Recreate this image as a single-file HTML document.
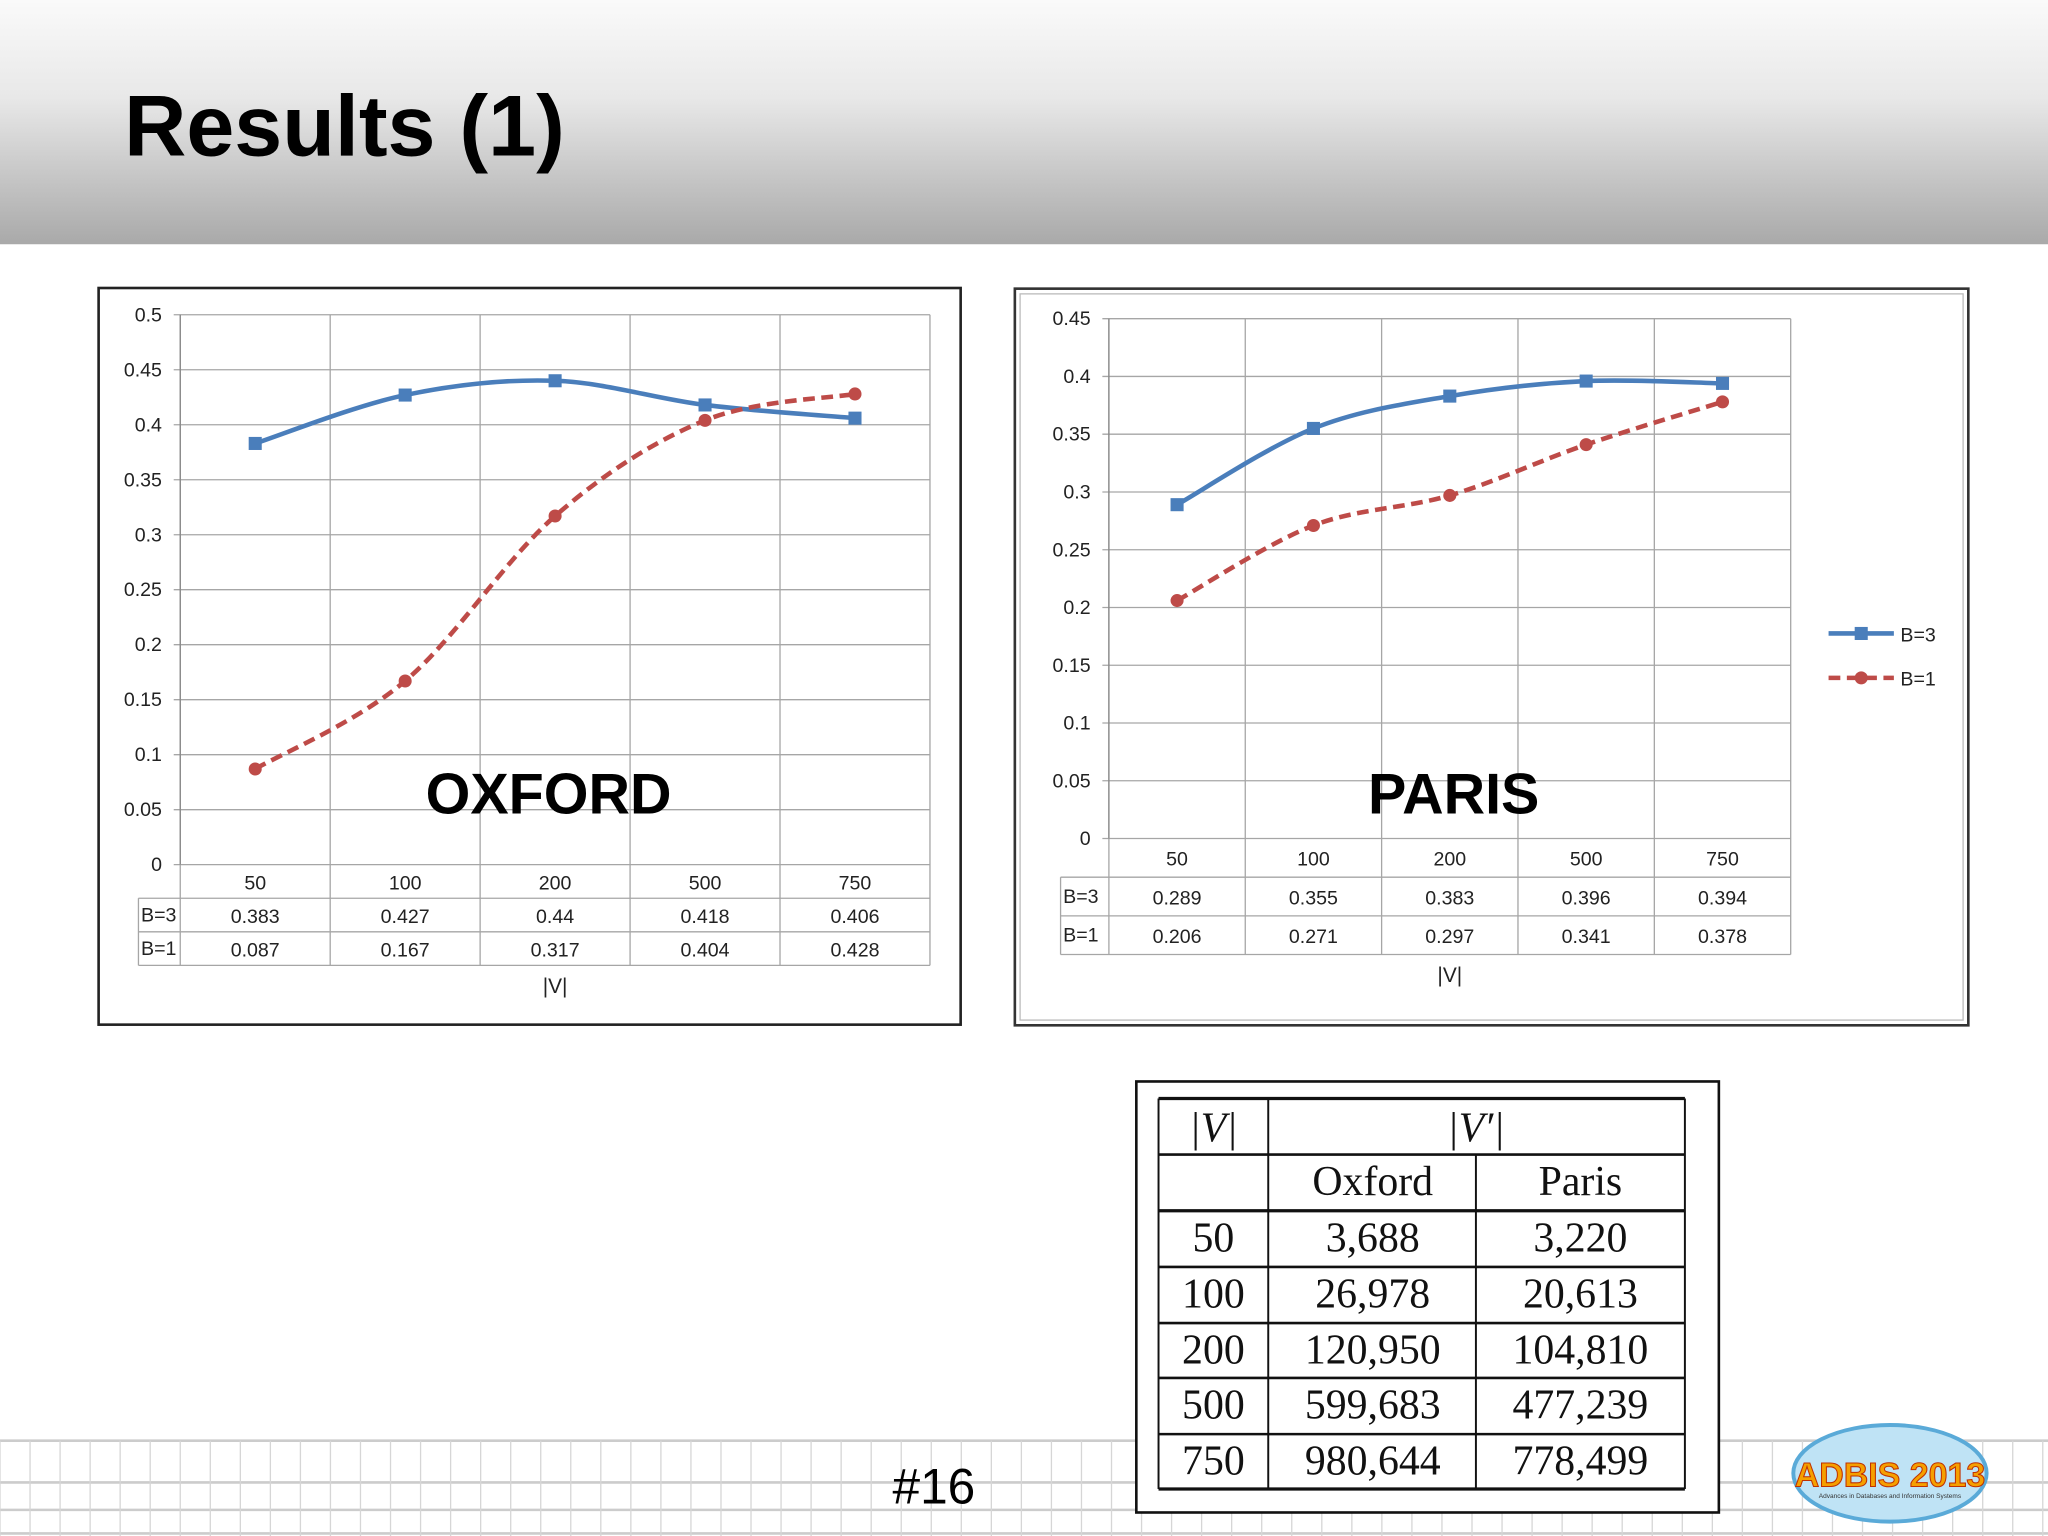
<!DOCTYPE html>
<html><head><meta charset="utf-8">
<style>
html,body{margin:0;padding:0;background:#fff;}
body{width:2048px;height:1536px;overflow:hidden;position:relative;font-family:"Liberation Sans",sans-serif;}
#wrap{position:absolute;left:0;top:0;width:1568px;height:1176px;transform:scale(1.306122);transform-origin:0 0;}
#hdr{position:absolute;left:0;top:0;width:1568px;height:187px;background:linear-gradient(#fafafa,#e8e8e8 40%,#a9a9a9);}
#title{position:absolute;left:95px;top:58px;font-size:66px;font-weight:bold;color:#000;font-family:"Liberation Sans",sans-serif;}
svg{position:absolute;left:0;top:0;}
</style></head>
<body>
<div id="wrap">
<div id="hdr"></div>
<div id="title">Results (1)</div>
<svg id="s" width="1568" height="1176" viewBox="0 0 1568 1176"></svg>
</div>
<script>
const categories=["50","100","200","500","750"];
const oxfordB3=[0.383,0.427,0.44,0.418,0.406];
const oxfordB1=[0.087,0.167,0.317,0.404,0.428];
const parisB3=[0.289,0.355,0.383,0.396,0.394];
const parisB1=[0.206,0.271,0.297,0.341,0.378];
const oxfordTicks=["0","0.05","0.1","0.15","0.2","0.25","0.3","0.35","0.4","0.45","0.5"];
const parisTicks=["0","0.05","0.1","0.15","0.2","0.25","0.3","0.35","0.4","0.45"];
const tblRows=[["50","3,688","3,220"],["100","26,978","20,613"],["200","120,950","104,810"],["500","599,683","477,239"],["750","980,644","778,499"]];

const NS="http://www.w3.org/2000/svg";
const S=document.getElementById('s');
function el(tag,attrs,parent,txt){const e=document.createElementNS(NS,tag);for(const k in attrs)e.setAttribute(k,attrs[k]);if(txt!==undefined)e.textContent=txt;(parent||S).appendChild(e);return e;}
function smooth(pts){let d=`M${pts[0][0]},${pts[0][1]}`;for(let i=0;i<pts.length-1;i++){const p0=pts[Math.max(0,i-1)],p1=pts[i],p2=pts[i+1],p3=pts[Math.min(pts.length-1,i+2)];const t=0.5/3*2;const c1=[p1[0]+(p2[0]-p0[0])*t/2,p1[1]+(p2[1]-p0[1])*t/2];const c2=[p2[0]-(p3[0]-p1[0])*t/2,p2[1]-(p3[1]-p1[1])*t/2];d+=` C${c1[0]},${c1[1]} ${c2[0]},${c2[1]} ${p2[0]},${p2[1]}`;}return d;}

function chart(cfg){
 const g=el('g',{});
 
 
 const {x0,x1,y0,y1,ymax,ticks,b3,b1,rowH,lblX}=cfg;
 const cw=(x1-x0)/categories.length;
 const xs=i=>x0+cw*(i+0.5);
 const ys=v=>y1-(v/ymax)*(y1-y0);
 // gridlines
 ticks.forEach((t,i)=>{const v=parseFloat(t);const y=ys(v);
  el('line',{x1:x0-5,x2:x1,y1:y,y2:y,stroke:'#a6a6a6','stroke-width':1},g);
  const tx=el('text',{x:x0-14,y:y+5,'text-anchor':'end','font-size':15,fill:'#222'},g,t);
  });
 for(let i=0;i<=categories.length;i++){const x=x0+cw*i;el('line',{x1:x,x2:x,y1:y0,y2:y1+rowH*3,stroke:'#a6a6a6','stroke-width':1},g);}
 el('line',{x1:x0,x2:x0,y1:y0,y2:y1,stroke:'#888','stroke-width':1},g);
 // data table
 const tl=lblX;
 el('line',{x1:tl,x2:x1,y1:y1+rowH,y2:y1+rowH,stroke:'#a6a6a6'},g);
 el('line',{x1:tl,x2:x1,y1:y1+rowH*2,y2:y1+rowH*2,stroke:'#a6a6a6'},g);
 el('line',{x1:tl,x2:x1,y1:y1+rowH*3,y2:y1+rowH*3,stroke:'#a6a6a6'},g);
 el('line',{x1:tl,x2:tl,y1:y1+rowH,y2:y1+rowH*3,stroke:'#a6a6a6'},g);
 el('text',{x:tl+2,y:y1+rowH*1.5+5,'font-size':15,fill:'#222'},g,'B=3');
 el('text',{x:tl+2,y:y1+rowH*2.5+5,'font-size':15,fill:'#222'},g,'B=1');
 categories.forEach((c,i)=>{
  const t=el('text',{x:xs(i),y:y1+rowH*0.5+6,'text-anchor':'middle','font-size':15,fill:'#222'},g,c);
  
  el('text',{x:xs(i),y:y1+rowH*1.5+6,'text-anchor':'middle','font-size':15,fill:'#222'},g,String(b3[i]));
  el('text',{x:xs(i),y:y1+rowH*2.5+6,'text-anchor':'middle','font-size':15,fill:'#222'},g,String(b1[i]));
 });
 const ax=el('text',{x:(x0+x1)/2,y:y1+rowH*3+21,'text-anchor':'middle','font-size':16,fill:'#222'},g,'|V|');
 
 // series
 const p3=b3.map((v,i)=>[xs(i),ys(v)]);const p1=b1.map((v,i)=>[xs(i),ys(v)]);
 const l3=el('path',{d:smooth(p3),fill:'none',stroke:'#4a7ebb','stroke-width':3.5},g);
 
 const l1=el('path',{d:smooth(p1),fill:'none',stroke:'#be4b48','stroke-width':3.5,'stroke-dasharray':'9,5'},g);
 
 p3.forEach(p=>{const m=el('rect',{x:p[0]-5,y:p[1]-5,width:10,height:10,fill:'#4a7ebb'},g);});
 p1.forEach(p=>{const m=el('circle',{cx:p[0],cy:p[1],r:5,fill:'#be4b48'},g);});
 const lab=el('text',{x:cfg.labX,y:623,'text-anchor':'middle','font-size':44,'font-weight':'bold',fill:'#000'},g,cfg.label);
 
}
// boxes
const bo=el('rect',{x:75.5,y:220.5,width:660,height:564,fill:'#fff',stroke:'#222','stroke-width':2});

const bp=el('rect',{x:777,y:221,width:730,height:564,fill:'#fff',stroke:'#333','stroke-width':2});

el('rect',{x:781,y:225,width:722,height:556,fill:'none',stroke:'#bbb','stroke-width':1});
chart({name:'oxford-chart',x0:138,x1:712,y0:241,y1:662,ymax:0.5,ticks:oxfordTicks,b3:oxfordB3,b1:oxfordB1,rowH:25.7,lblX:106,label:'OXFORD',labX:420});
chart({name:'paris-chart',x0:849,x1:1371,y0:244,y1:642,ymax:0.45,ticks:parisTicks,b3:parisB3,b1:parisB1,rowH:29.6,lblX:812,label:'PARIS',labX:1113});
// legend
const lg=el('g',{});
el('line',{x1:1400,x2:1450,y1:485,y2:485,stroke:'#4a7ebb','stroke-width':3.5},lg);
el('rect',{x:1420,y:480,width:10,height:10,fill:'#4a7ebb'},lg);
el('text',{x:1455,y:491,'font-size':15,fill:'#222'},lg,'B=3');
el('line',{x1:1400,x2:1450,y1:519,y2:519,stroke:'#be4b48','stroke-width':3.5,'stroke-dasharray':'9,5'},lg);
el('circle',{cx:1425,cy:519,r:5,fill:'#be4b48'},lg);
el('text',{x:1455,y:525,'font-size':15,fill:'#222'},lg,'B=1');
// footer grid
const fg=el('g',{});
[1103,1135,1156,1174].forEach(y=>el('line',{x1:0,x2:1568,y1:y,y2:y,stroke:'#ccc','stroke-width':2},fg));
for(let x=0;x<1568;x+=23)el('line',{x1:x,x2:x,y1:1103,y2:1176,stroke:'#d6d6d6','stroke-width':1},fg);
const pn=el('text',{x:715,y:1151,'text-anchor':'middle','font-size':38,fill:'#000'},S,'#16');

// table
const tg=el('g',{});
el('rect',{x:870,y:828,width:446,height:330,fill:'#fff',stroke:'#111','stroke-width':2},tg);
const cols=[887,971,1130,1290];const rows=[841,884,927,970,1013,1055,1098,1140];
rows.forEach((y,i)=>el('line',{x1:887,x2:1290,y1:y,y2:y,stroke:'#111','stroke-width':(i===0||i===7||i===2)?2.5:2},tg));
el('line',{x1:887,x2:887,y1:841,y2:1140,stroke:'#111','stroke-width':1.5},tg);
el('line',{x1:971,x2:971,y1:841,y2:1140,stroke:'#111','stroke-width':1.5},tg);
el('line',{x1:1130,x2:1130,y1:884,y2:1140,stroke:'#111','stroke-width':1.5},tg);
el('line',{x1:1290,x2:1290,y1:841,y2:1140,stroke:'#111','stroke-width':1.5},tg);
const tf='font-family:"Liberation Serif",serif';
function tt(x,y,s,it){const t=el('text',{x:x,y:y,'text-anchor':'middle','font-size':32,fill:'#111',style:tf+(it?';font-style:italic':'')},tg,s);return t;}
tt(929,874,'|V|',true);tt(1130,874,"|V′|",true);
tt(1051,915,'Oxford');tt(1210,915,'Paris');
tblRows.forEach((r,i)=>{const y=rows[i+2]+31;tt(929,y,r[0]);tt(1051,y,r[1]);tt(1210,y,r[2]);});
// logo
const lo=el('g',{});
el('ellipse',{cx:1447,cy:1128,rx:74,ry:37,fill:'#bfe3f5',stroke:'#5aaad8','stroke-width':3},lo);
el('text',{x:1447,y:1138,'text-anchor':'middle','font-size':26,'font-weight':'bold',fill:'#f5a000',stroke:'#c03000','stroke-width':0.8},lo,'ADBIS 2013');
el('text',{x:1447,y:1147,'text-anchor':'middle','font-size':5,fill:'#333'},lo,'Advances in Databases and Information Systems');
</script>
</body></html>
